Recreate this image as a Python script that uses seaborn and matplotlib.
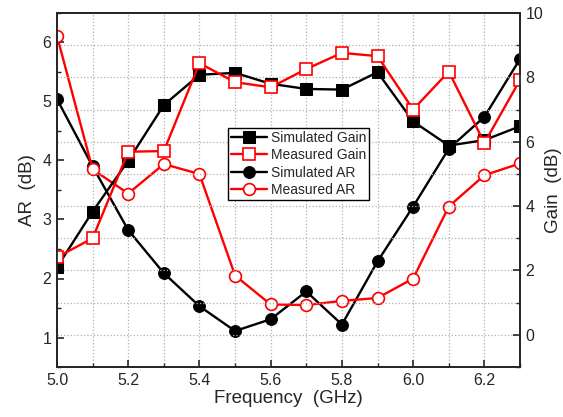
import numpy as np
import pandas as pd
import seaborn as sns
import matplotlib
matplotlib.use("Agg")
import matplotlib.pyplot as plt
from matplotlib.ticker import MultipleLocator

# values
freq = [5.0, 5.1, 5.2, 5.3, 5.4, 5.5, 5.6, 5.7, 5.8, 5.9, 6.0, 6.1, 6.2, 6.3]
sim_gain = [2.10, 3.83, 5.41, 7.14, 8.08, 8.14, 7.80, 7.64, 7.62, 8.16, 6.63, 5.88, 6.05, 6.48]
meas_gain = [2.41, 3.00, 5.69, 5.71, 8.44, 7.85, 7.69, 8.26, 8.76, 8.66, 7.00, 8.18, 5.96, 7.92]
sim_ar = [5.04, 3.90, 2.82, 2.09, 1.53, 1.11, 1.31, 1.78, 1.22, 2.29, 3.22, 4.20, 4.74, 5.72]
meas_ar = [6.11, 3.85, 3.44, 3.94, 3.77, 2.05, 1.56, 1.55, 1.62, 1.67, 2.00, 3.22, 3.75, 3.95]

sns.set_style("ticks")
plt.rcParams['font.family'] = ['Liberation Sans', 'DejaVu Sans']
plt.rcParams['xtick.direction'] = 'in'
plt.rcParams['ytick.direction'] = 'in'

fig = plt.figure(figsize=(5.63, 4.17), dpi=100)
ax = fig.add_axes([57 / 563, 50 / 417, 463 / 563, 354 / 417])
ax2 = ax.twinx()

lw = 1.7
ms = 8.5

# AR curves on the left axis
sns.lineplot(x=freq, y=sim_ar, ax=ax, color='black', marker='o', markersize=ms,
             markeredgecolor='black', linewidth=lw, label='Simulated AR', legend=False)
sns.lineplot(x=freq, y=meas_ar, ax=ax, color='red', marker='o', markersize=ms,
             markerfacecolor='white', markeredgecolor='red', markeredgewidth=1.2,
             linewidth=lw, label='Measured AR', legend=False)

# Gain curves on the right axis
sns.lineplot(x=freq, y=sim_gain, ax=ax2, color='black', marker='s', markersize=ms,
             markeredgecolor='black', linewidth=lw, label='Simulated Gain', legend=False)
sns.lineplot(x=freq, y=meas_gain, ax=ax2, color='red', marker='s', markersize=ms,
             markerfacecolor='white', markeredgecolor='red', markeredgewidth=1.2,
             linewidth=lw, label='Measured Gain', legend=False)

ax.set_xlim(5.0, 6.3)
ax.set_ylim(0.5, 6.5)
ax2.set_ylim(-1, 10)

ax.xaxis.set_major_locator(MultipleLocator(0.2))
ax.xaxis.set_minor_locator(MultipleLocator(0.1))
ax.yaxis.set_major_locator(MultipleLocator(1))
ax.yaxis.set_minor_locator(MultipleLocator(0.5))
ax2.yaxis.set_major_locator(MultipleLocator(2))
ax2.yaxis.set_minor_locator(MultipleLocator(1))
ax.xaxis.set_major_formatter(matplotlib.ticker.FormatStrFormatter('%.1f'))

# dotted grid follows the gain axis and every 0.1 GHz
ax.grid(False)
for x in np.arange(5.1, 6.3, 0.1):
    ax.axvline(x, color='#b0b0b0', linestyle=':', linewidth=0.9, zorder=0)
for g in range(0, 10):
    ax2.axhline(g, color='#b0b0b0', linestyle=':', linewidth=0.9, zorder=0)

for a in (ax, ax2):
    a.tick_params(which='major', length=5, width=1.2, labelsize=11.5, pad=4)
    a.tick_params(which='minor', length=3, width=1.0)
    for s in a.spines.values():
        s.set_linewidth(1.3)
        s.set_visible(True)

ax.set_xlabel('Frequency  (GHz)', fontsize=13.5, labelpad=2)
ax.set_ylabel('AR  (dB)', fontsize=13.5, labelpad=5)
ax2.set_ylabel('Gain  (dB)', fontsize=13.5, labelpad=1)

h1, l1 = ax.get_legend_handles_labels()
h2, l2 = ax2.get_legend_handles_labels()
leg = ax2.legend(h2 + h1, l2 + l1, loc='upper left', bbox_to_anchor=(0.369, 0.675),
                 borderaxespad=0, frameon=True, fancybox=False, edgecolor='black',
                 fontsize=10, handlelength=2.6, handletextpad=0.3, borderpad=0.2,
                 labelspacing=0.25, framealpha=1)
leg.get_frame().set_linewidth(1.0)

fig.savefig('out.png', dpi=100)
